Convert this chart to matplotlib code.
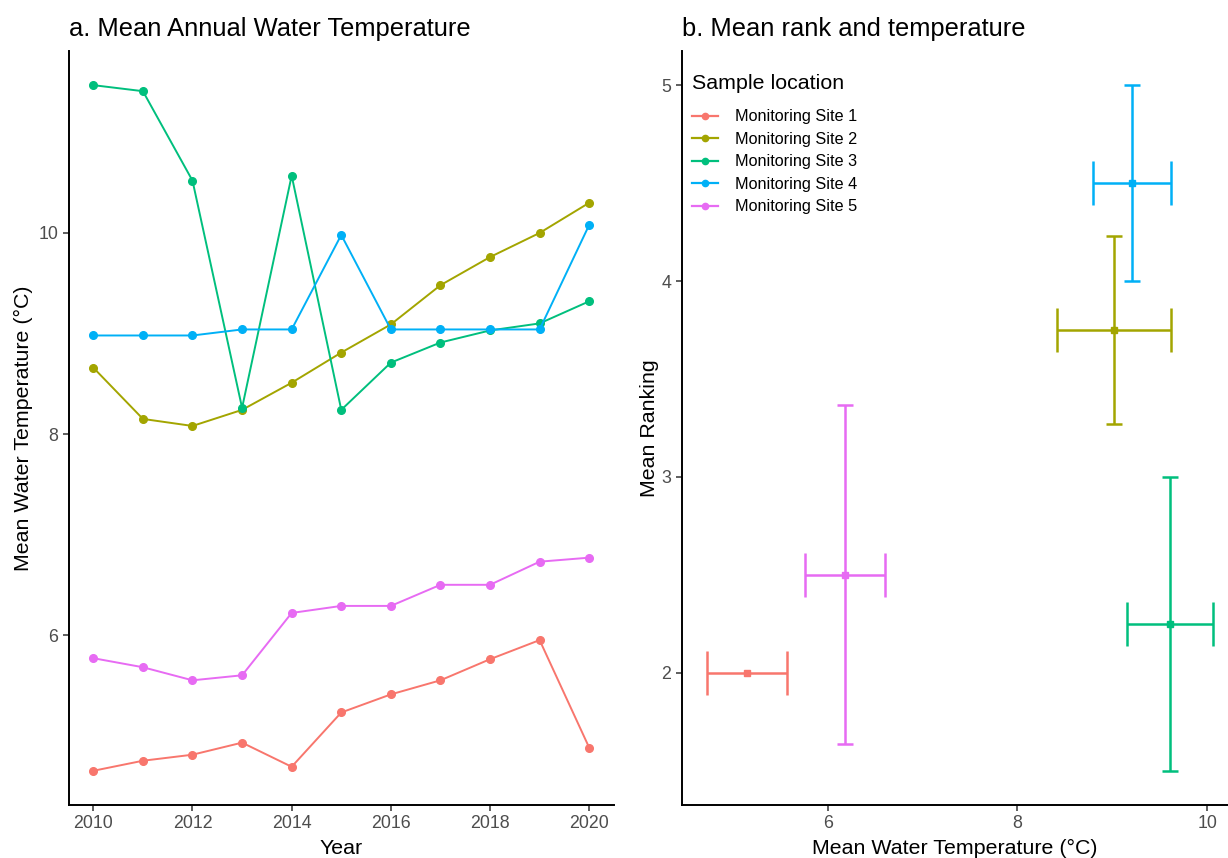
import matplotlib
matplotlib.use('Agg')
import matplotlib.pyplot as plt
from matplotlib.lines import Line2D

plt.rcParams['font.family'] = ['Liberation Sans', 'DejaVu Sans']

sites = ['Monitoring Site 1', 'Monitoring Site 2', 'Monitoring Site 3',
         'Monitoring Site 4', 'Monitoring Site 5']
colors = ['#F8766D', '#A3A500', '#00BF7D', '#00B0F6', '#E76BF3']

years = list(range(2010, 2021))
site1 = [4.65, 4.75, 4.81, 4.93, 4.69, 5.23, 5.41, 5.55, 5.76, 5.95, 4.88]
site2 = [8.66, 8.15, 8.08, 8.24, 8.51, 8.81, 9.09, 9.48, 9.76, 10.00, 10.30]
site3 = [11.47, 11.41, 10.52, 8.26, 10.57, 8.24, 8.71, 8.91, 9.03, 9.10, 9.32]
site4 = [8.98, 8.98, 8.98, 9.04, 9.04, 9.98, 9.04, 9.04, 9.04, 9.04, 10.08]
site5 = [5.77, 5.68, 5.55, 5.60, 6.22, 6.29, 6.29, 6.50, 6.50, 6.73, 6.77]
annual = [site1, site2, site3, site4, site5]

# panel b: mean temperature / rank with standard deviations
mean_temp = [5.15, 9.02, 9.61, 9.21, 6.18]
sd_temp = [0.42, 0.60, 0.45, 0.41, 0.42]
mean_rank = [2.0, 3.75, 2.25, 4.5, 2.5]
sd_rank = [0.0, 0.48, 0.75, 0.5, 0.866]

fig = plt.figure(figsize=(12.28, 8.58), dpi=100)
ax1 = fig.add_axes([0.0558, 0.0618, 0.4442, 0.8788])
ax2 = fig.add_axes([0.5551, 0.0618, 0.4449, 0.8788])

for vals, c in zip(annual, colors):
    ax1.plot(years, vals, '-', color=c, lw=1.4, marker='o', markersize=5.5)
ax1.set_xlim(2009.5, 2020.5)
ax1.set_ylim(4.31, 11.81)
ax1.set_xticks([2010, 2012, 2014, 2016, 2018, 2020])
ax1.set_yticks([6, 8, 10])
ax1.set_xlabel('Year', fontsize=15.4, labelpad=5)
ax1.set_ylabel('Mean Water Temperature (°C)', fontsize=15.4, labelpad=4)
ax1.set_title('a. Mean Annual Water Temperature', loc='left', fontsize=18.4, pad=11)

for i in range(len(sites)):
    c = colors[i]
    ax2.errorbar(mean_temp[i], mean_rank[i], xerr=sd_temp[i], color=c, lw=1.8,
                 capsize=15.8, capthick=1.8, marker='s', markersize=4.5)
    if sd_rank[i] > 0:
        ax2.errorbar(mean_temp[i], mean_rank[i], yerr=sd_rank[i], color=c, lw=1.8,
                     capsize=6, capthick=1.8, fmt='none')
ax2.set_xlim(4.462, 10.22)
ax2.set_ylim(1.325, 5.175)
ax2.set_xticks([6, 8, 10])
ax2.set_yticks([2, 3, 4, 5])
ax2.set_xlabel('Mean Water Temperature (°C)', fontsize=15.4, labelpad=5)
ax2.set_ylabel('Mean Ranking', fontsize=15.4, labelpad=2)
ax2.set_title('b. Mean rank and temperature', loc='left', fontsize=18.4, pad=11)

handles = [Line2D([0], [0], color=c, lw=1.6, marker='o', markersize=4.5) for c in colors]
leg = ax2.legend(handles, sites, title='Sample location', loc='upper left',
                 bbox_to_anchor=(-0.004, 0.987), frameon=False, fontsize=11.7,
                 title_fontsize=15.4, labelspacing=0.46, handlelength=1.6,
                 handletextpad=1.0, borderpad=0.3)
leg._legend_box.align = 'left'
leg._legend_box.sep = 12

for ax in (ax1, ax2):
    for s in ('top', 'right'):
        ax.spines[s].set_visible(False)
    for s in ('left', 'bottom'):
        ax.spines[s].set_linewidth(1.4)
    ax.tick_params(colors='#333333', labelcolor='#4D4D4D', labelsize=12.8,
                   length=4, width=1.1)

fig.savefig('out.png', dpi=100)
